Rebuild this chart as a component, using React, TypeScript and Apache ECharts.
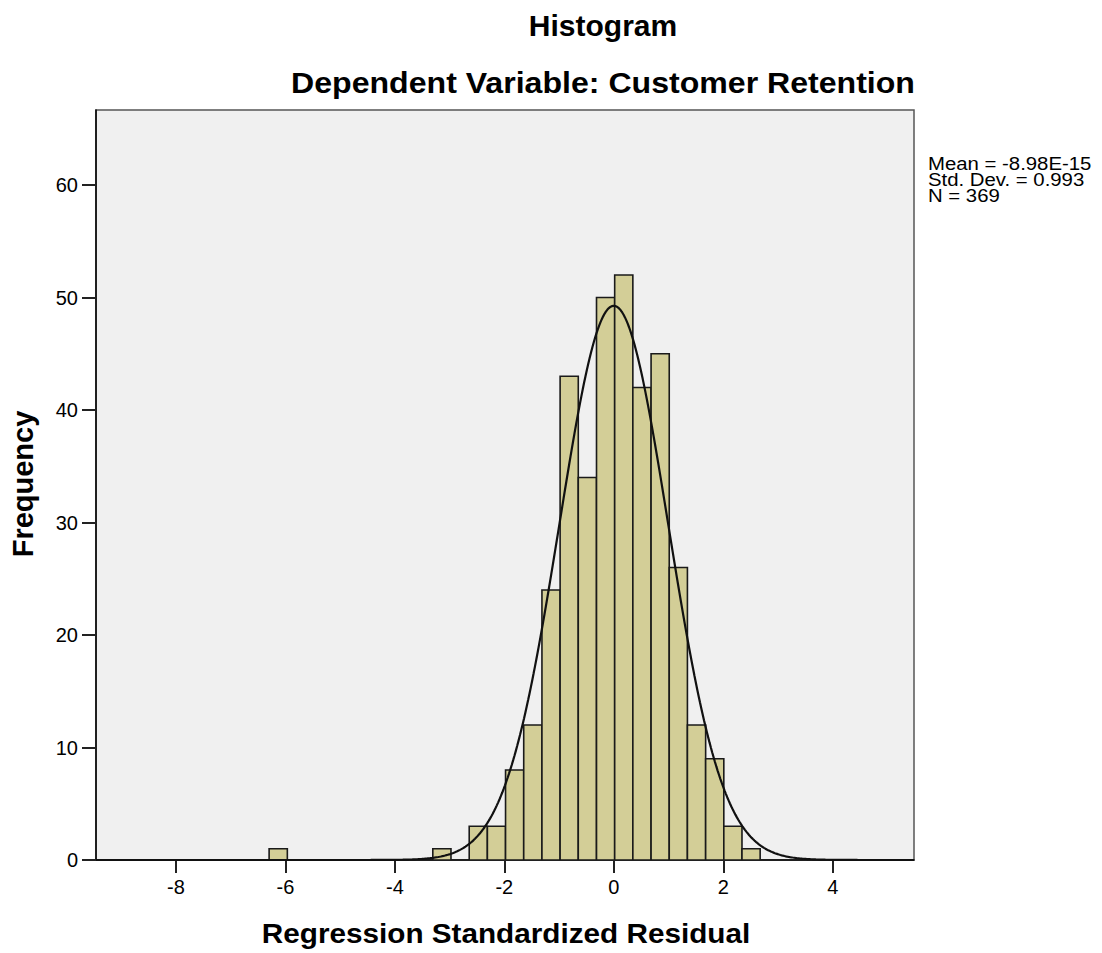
import React, { useEffect, useRef } from "react";
import * as echarts from "echarts";

// ---- Data ----
const binLower = [-6.298, -3.307, -2.975, -2.642, -2.31, -1.978, -1.646, -1.313, -0.981, -0.649, -0.316, 0.016, 0.348, 0.681, 1.013, 1.345, 1.678, 2.01, 2.342];
const binUpper = [-5.965, -2.975, -2.642, -2.31, -1.978, -1.646, -1.313, -0.981, -0.649, -0.316, 0.016, 0.348, 0.681, 1.013, 1.345, 1.678, 2.01, 2.342, 2.674];
const frequencies = [1, 1, 0, 3, 3, 8, 12, 24, 43, 34, 50, 52, 42, 45, 26, 12, 9, 3, 1];

const xTickValues = [-8, -6, -4, -2, 0, 2, 4];
const yTickValues = [0, 10, 20, 30, 40, 50, 60];

const statMean = -8.98e-15;
const statSD = 0.993;
const statN = 369;
const binWidth = 0.3323;
const statLines = ["Mean = -8.98E-15", "Std. Dev. = 0.993", "N = 369"];

const titleText = "Histogram";
const subtitleText = "Dependent Variable: Customer Retention";
const xName = "Regression Standardized Residual";
const yName = "Frequency";

const X_MIN = -9.461;
const X_MAX = 5.485;
const Y_MAX = 66.67;

const FONT = '"Liberation Sans", Arial, Helvetica, sans-serif';

// Fitted normal curve from the reported statistics
function normalCurve(): number[][] {
  const pts: number[][] = [];
  const steps = 600;
  for (let i = 0; i <= steps; i++) {
    const x = X_MIN + ((X_MAX - X_MIN) * i) / steps;
    const z = (x - statMean) / statSD;
    const y = (statN * binWidth * Math.exp(-0.5 * z * z)) / (statSD * Math.sqrt(2 * Math.PI));
    pts.push([x, y]);
  }
  return pts;
}

export default function App() {
  const ref = useRef<HTMLDivElement>(null);

  useEffect(() => {
    document.body.style.margin = "0";
    if (!ref.current) return;
    const chart = echarts.init(ref.current, undefined, { renderer: "svg" });

    const barData = frequencies.map((f, i) => [binLower[i], binUpper[i], f]);

    chart.setOption({
      animation: false,
      backgroundColor: "#ffffff",
      grid: {
        left: 96,
        top: 110,
        right: 188,
        bottom: 93,
        show: true,
        backgroundColor: "#F0F0F0",
        borderColor: "#555555",
        borderWidth: 1.5,
      },
      xAxis: {
        type: "value",
        min: X_MIN,
        max: X_MAX,
        axisLine: { show: true, onZero: false, lineStyle: { color: "#000", width: 1.5 } },
        axisTick: {
          show: true,
          customValues: xTickValues,
          length: 13,
          lineStyle: { color: "#222", width: 2 },
        },
        axisLabel: {
          customValues: xTickValues,
          fontSize: 20,
          fontFamily: FONT,
          color: "#000",
          margin: 17,
        },
        splitLine: { show: false },
      },
      yAxis: {
        type: "value",
        min: 0,
        max: Y_MAX,
        axisLine: { show: true, onZero: false, lineStyle: { color: "#000", width: 1.5 } },
        axisTick: {
          show: true,
          customValues: yTickValues,
          length: 14,
          lineStyle: { color: "#222", width: 2 },
        },
        axisLabel: {
          customValues: yTickValues,
          fontSize: 20,
          fontFamily: FONT,
          color: "#000",
          margin: 18,
        },
        splitLine: { show: false },
      },
      series: [
        {
          type: "custom",
          data: barData,
          encode: { x: [0, 1], y: 2 },
          clip: true,
          renderItem: (params: any, api: any) => {
            const x0 = api.value(0);
            const x1 = api.value(1);
            const c = api.value(2);
            if (!c) return null;
            const p0 = api.coord([x0, 0]);
            const p1 = api.coord([x1, c]);
            return {
              type: "rect",
              shape: { x: p0[0], y: p1[1], width: p1[0] - p0[0], height: p0[1] - p1[1] },
              style: { fill: "#D3CE97", stroke: "#1a1a1a", lineWidth: 1.6 },
            };
          },
          z: 2,
        },
        {
          type: "line",
          data: normalCurve(),
          showSymbol: false,
          symbol: "none",
          smooth: false,
          lineStyle: { color: "#111", width: 2.2 },
          z: 3,
        },
      ],
      graphic: [
        {
          type: "text",
          x: 603,
          y: 25,
          style: {
            text: titleText,
            fontSize: 30,
            fontWeight: "bold",
            fontFamily: FONT,
            fill: "#000",
            align: "center",
            verticalAlign: "middle",
          },
        },
        {
          type: "text",
          x: 603,
          y: 83,
          scaleX: 1.07,
          style: {
            text: subtitleText,
            fontSize: 30,
            fontWeight: "bold",
            fontFamily: FONT,
            fill: "#000",
            align: "center",
            verticalAlign: "middle",
          },
        },
        {
          type: "text",
          x: 506,
          y: 933,
          scaleX: 1.1,
          style: {
            text: xName,
            fontSize: 27,
            fontWeight: "bold",
            fontFamily: FONT,
            fill: "#000",
            align: "center",
            verticalAlign: "middle",
          },
        },
        {
          type: "text",
          x: 23,
          y: 484,
          rotation: Math.PI / 2,
          style: {
            text: yName,
            fontSize: 29,
            fontWeight: "bold",
            fontFamily: FONT,
            fill: "#000",
            align: "center",
            verticalAlign: "middle",
          },
        },
        ...statLines.map((t, i) => ({
          type: "text",
          x: 928,
          y: 163 + i * 16,
          scaleX: 1.1,
          style: {
            text: t,
            fontSize: 18.5,
            fontFamily: FONT,
            fill: "#000",
            align: "left",
            verticalAlign: "middle",
          },
        })),
      ],
    });

    return () => {
      chart.dispose();
    };
  }, []);

  return <div ref={ref} style={{ width: 1102, height: 953 }} />;
}
